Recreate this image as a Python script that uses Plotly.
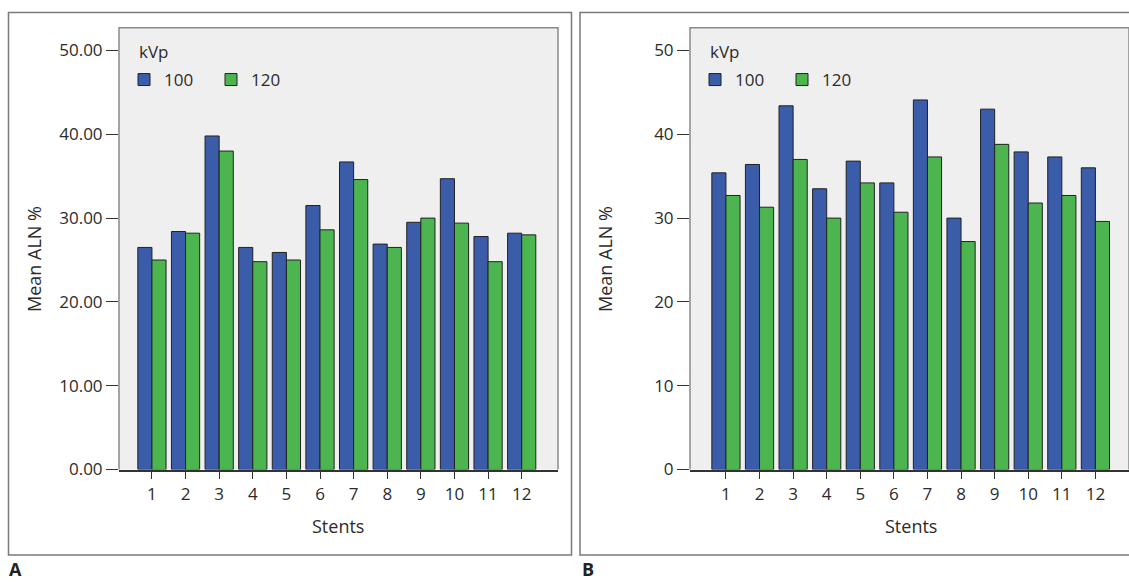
import plotly.graph_objects as go

stents = list(range(1, 13))
tick_labels = [str(s) for s in stents]

# Panel A
a_100 = [26.5, 28.4, 39.8, 26.5, 25.9, 31.5, 36.7, 26.9, 29.5, 34.7, 27.8, 28.2]
a_120 = [25.0, 28.2, 38.0, 24.8, 25.0, 28.6, 34.6, 26.5, 30.0, 29.4, 24.8, 28.0]
# Panel B
b_100 = [35.4, 36.4, 43.4, 33.5, 36.8, 34.2, 44.1, 30.0, 43.0, 37.9, 37.3, 36.0]
b_120 = [32.7, 31.3, 37.0, 30.0, 34.2, 30.7, 37.3, 27.2, 38.8, 31.8, 32.7, 29.6]

y_ticks = [0, 10, 20, 30, 40, 50]

BLUE = "#3b5ca9"
GREEN = "#4cb54f"
EDGE = "#222222"
FONT = "Open Sans"
TXT = "#2b2b2b"

W, H = 1129, 582
def px(x):
    return x / W
def py(y):
    return 1 - y / H

fig = go.Figure()

for name, vals, col, xa, ya, lg in [
    ("100", a_100, BLUE, "x", "y", "legend"),
    ("120", a_120, GREEN, "x", "y", "legend"),
    ("100", b_100, BLUE, "x2", "y2", "legend2"),
    ("120", b_120, GREEN, "x2", "y2", "legend2"),
]:
    fig.add_trace(go.Bar(
        x=stents, y=vals, name=name, xaxis=xa, yaxis=ya, legend=lg,
        marker=dict(color=col, line=dict(color=EDGE, width=1)),
        offsetgroup=name,
    ))

plot_top, plot_bot = 27.7, 469.5
ymax = 50 * (plot_bot - plot_top) / (469.5 - 50.5)

xaxis_common = dict(
    showgrid=False, zeroline=False, ticks="outside", ticklen=8,
    tickcolor="#333", tickwidth=1.2, tickfont=dict(family=FONT, size=17, color=TXT),
    tickmode="array", tickvals=stents, ticktext=tick_labels,
    showline=True, linecolor="#333", linewidth=1.5,
)
yaxis_common = dict(
    showgrid=False, zeroline=False, ticks="outside", ticklen=12,
    tickcolor="#333", tickwidth=1.2, tickfont=dict(family=FONT, size=17, color=TXT),
    tickmode="array", tickvals=y_ticks, showline=False,
)

legend_common = dict(
    orientation="h", yanchor="top", xanchor="left",
    font=dict(family=FONT, size=17, color=TXT),
    bgcolor="rgba(0,0,0,0)", entrywidth=42, entrywidthmode="pixels",
    traceorder="normal", tracegroupgap=0,
)

fig.update_layout(
    autosize=True,
    margin=dict(l=0, r=0, t=0, b=0, autoexpand=False),
    paper_bgcolor="white",
    barmode="group",
    bargap=0.16,
    bargroupgap=0,
    showlegend=True,
    font=dict(family=FONT, size=17, color=TXT),
    xaxis=dict(domain=[px(119), px(558)], range=[0.02, 13.08], anchor="y", **xaxis_common),
    yaxis=dict(domain=[py(plot_bot), py(plot_top)], range=[0, ymax], anchor="x",
               tickformat=".2f", **yaxis_common),
    xaxis2=dict(domain=[px(690), 1.0], range=[-0.07, 13.0], anchor="y2", **xaxis_common),
    yaxis2=dict(domain=[py(plot_bot), py(plot_top)], range=[0, ymax], anchor="x2",
                tickformat="d", **yaxis_common),
    plot_bgcolor="#efefef",
    legend=dict(x=px(124), y=py(62), **legend_common),
    legend2=dict(x=px(695), y=py(62), **legend_common),
)

shapes = []
# outer panel boxes
shapes.append(dict(type="rect", xref="paper", yref="paper",
                   x0=px(8.5), x1=px(571.5), y0=py(555), y1=py(12.5),
                   line=dict(color="#7a7a7a", width=1.5), layer="below"))
shapes.append(dict(type="rect", xref="paper", yref="paper",
                   x0=px(580), x1=px(1145), y0=py(555), y1=py(12.5),
                   line=dict(color="#7a7a7a", width=1.5), layer="below"))
# plot area frames (top, left, right)
for xr, yr in [("x domain", "y domain"), ("x2 domain", "y2 domain")]:
    shapes.append(dict(type="path", xref=xr, yref=yr,
                       path="M 0,0 L 0,1 L 1,1 L 1,0",
                       line=dict(color="#8a8a8a", width=1.5), layer="above"))
fig.update_layout(shapes=shapes)

ann = []
for xc, xcen, xleg in [(34, 338, 137), (605, 911, 708)]:
    ann.append(dict(text="Mean ALN %", x=px(xc), y=py(259), xref="paper", yref="paper",
                    xanchor="center", yanchor="middle",
                    showarrow=False, textangle=-90, font=dict(family=FONT, size=18, color=TXT)))
    ann.append(dict(text="Stents", x=px(xcen), y=py(526), xref="paper", yref="paper",
                    xanchor="center", yanchor="middle",
                    showarrow=False, font=dict(family=FONT, size=18, color=TXT)))
    ann.append(dict(text="kVp", x=px(xleg), y=py(51), xref="paper", yref="paper",
                    xanchor="left", yanchor="middle",
                    showarrow=False, font=dict(family=FONT, size=17, color=TXT)))
ann.append(dict(text="<b>A</b>", x=px(7), y=py(569), xref="paper", yref="paper",
                xanchor="left", yanchor="middle", showarrow=False,
                font=dict(family=FONT, size=18, color="#222")))
ann.append(dict(text="<b>B</b>", x=px(580), y=py(569), xref="paper", yref="paper",
                xanchor="left", yanchor="middle", showarrow=False,
                font=dict(family=FONT, size=18, color="#222")))
fig.update_layout(annotations=ann)

fig.write_html(
    "out.html",
    default_width="100vw",
    default_height="100vh",
    config={"responsive": True, "displayModeBar": False},
    post_script=(
        "document.documentElement.style.margin='0';"
        "document.body.style.margin='0';"
        "document.body.style.overflow='hidden';"
        "Plotly.Plots.resize(document.getElementById('{plot_id}'));"
    ),
)
